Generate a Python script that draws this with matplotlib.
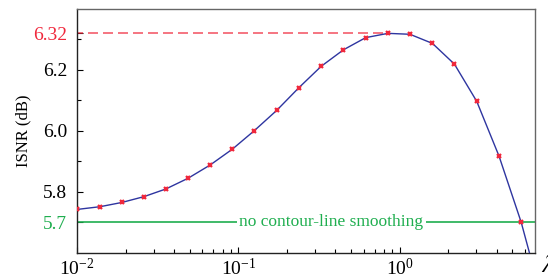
import numpy as np
import matplotlib
matplotlib.use("Agg")
import matplotlib.pyplot as plt
from matplotlib.ticker import LogLocator, LogFormatterMathtext, NullFormatter

plt.rcParams['font.family'] = 'Liberation Serif'
plt.rcParams['mathtext.fontset'] = 'stix'

# data
lam = [0.01, 0.0139, 0.0190, 0.0260, 0.0355, 0.0487, 0.0670, 0.0920, 0.126, 0.173,
       0.238, 0.327, 0.449, 0.617, 0.848, 1.16, 1.60, 2.19, 3.01, 4.14, 5.68, 7.80]
isnr = [5.742, 5.751, 5.765, 5.784, 5.809, 5.844, 5.888, 5.940, 6.001, 6.067,
        6.142, 6.212, 6.266, 6.306, 6.320, 6.317, 6.287, 6.219, 6.097, 5.917, 5.700, 5.430]
peak_val = 6.32
peak_lam = 0.848
baseline = 5.7
ytick_vals = [5.7, 5.8, 6.0, 6.2, 6.32]
ytick_labels = ['5.7', '5.8', '6.0', '6.2', '6.32']
yminor = [5.9, 6.1, 6.3]

red = '#f0283c'
green = '#1fae4f'
navy = '#2e35a0'

fig = plt.figure(figsize=(5.48, 2.8), dpi=100)
ax = fig.add_axes([0.1405, 0.0975, 0.8358, 0.8704])

ax.plot(lam, isnr, color=navy, lw=1.0, zorder=3)
ax.plot(lam, isnr, ls='none', marker='x', ms=3.5, mew=1.6, color=red, zorder=4)

# baseline without smoothing
ax.axhline(baseline, color=green, lw=1.2, zorder=2)
ax.text(0.378, baseline, 'no contour-line smoothing', color=green, fontsize=12.5,
        ha='center', va='center', zorder=2.5,
        bbox=dict(facecolor='white', edgecolor='none', pad=2))

# best value
ax.plot([0.005, peak_lam], [peak_val, peak_val], color=red, ls=(0, (6, 3)),
        lw=1.2, alpha=0.75, zorder=2)

ax.set_xscale('log')
ax.set_xlim(0.01, 6.92)
ax.set_ylim(5.6, 6.4)

ax.xaxis.set_major_locator(LogLocator(base=10))
ax.xaxis.set_major_formatter(LogFormatterMathtext())
ax.xaxis.set_minor_locator(LogLocator(base=10, subs=np.arange(2, 10)))
ax.xaxis.set_minor_formatter(NullFormatter())

ax.set_yticks(ytick_vals)
ax.set_yticklabels(ytick_labels)
ax.set_yticks(yminor, minor=True)
for lbl in ax.get_yticklabels():
    if lbl.get_text() == '6.32':
        lbl.set_color(red)
    elif lbl.get_text() == '5.7':
        lbl.set_color(green)

ax.tick_params(axis='both', which='both', direction='in', top=False, right=False,
               labelsize=14)
ax.tick_params(axis='both', which='major', length=4, width=0.8)
ax.tick_params(axis='both', which='minor', length=3, width=0.8)
ax.tick_params(axis='y', pad=7)
ax.tick_params(axis='x', pad=4)

for s in ['left', 'bottom']:
    ax.spines[s].set_color('#222222')
    ax.spines[s].set_linewidth(1.0)
for s in ['top', 'right']:
    ax.spines[s].set_color('#666666')
    ax.spines[s].set_linewidth(1.0)

ax.set_ylabel('ISNR (dB)', fontsize=12)
ax.yaxis.set_label_coords(-0.1, 0.5)

fig.text(541 / 548, 1 - 266 / 280, r'$\lambda$', fontsize=17, ha='left', va='center')

fig.savefig('out.png', dpi=100)
